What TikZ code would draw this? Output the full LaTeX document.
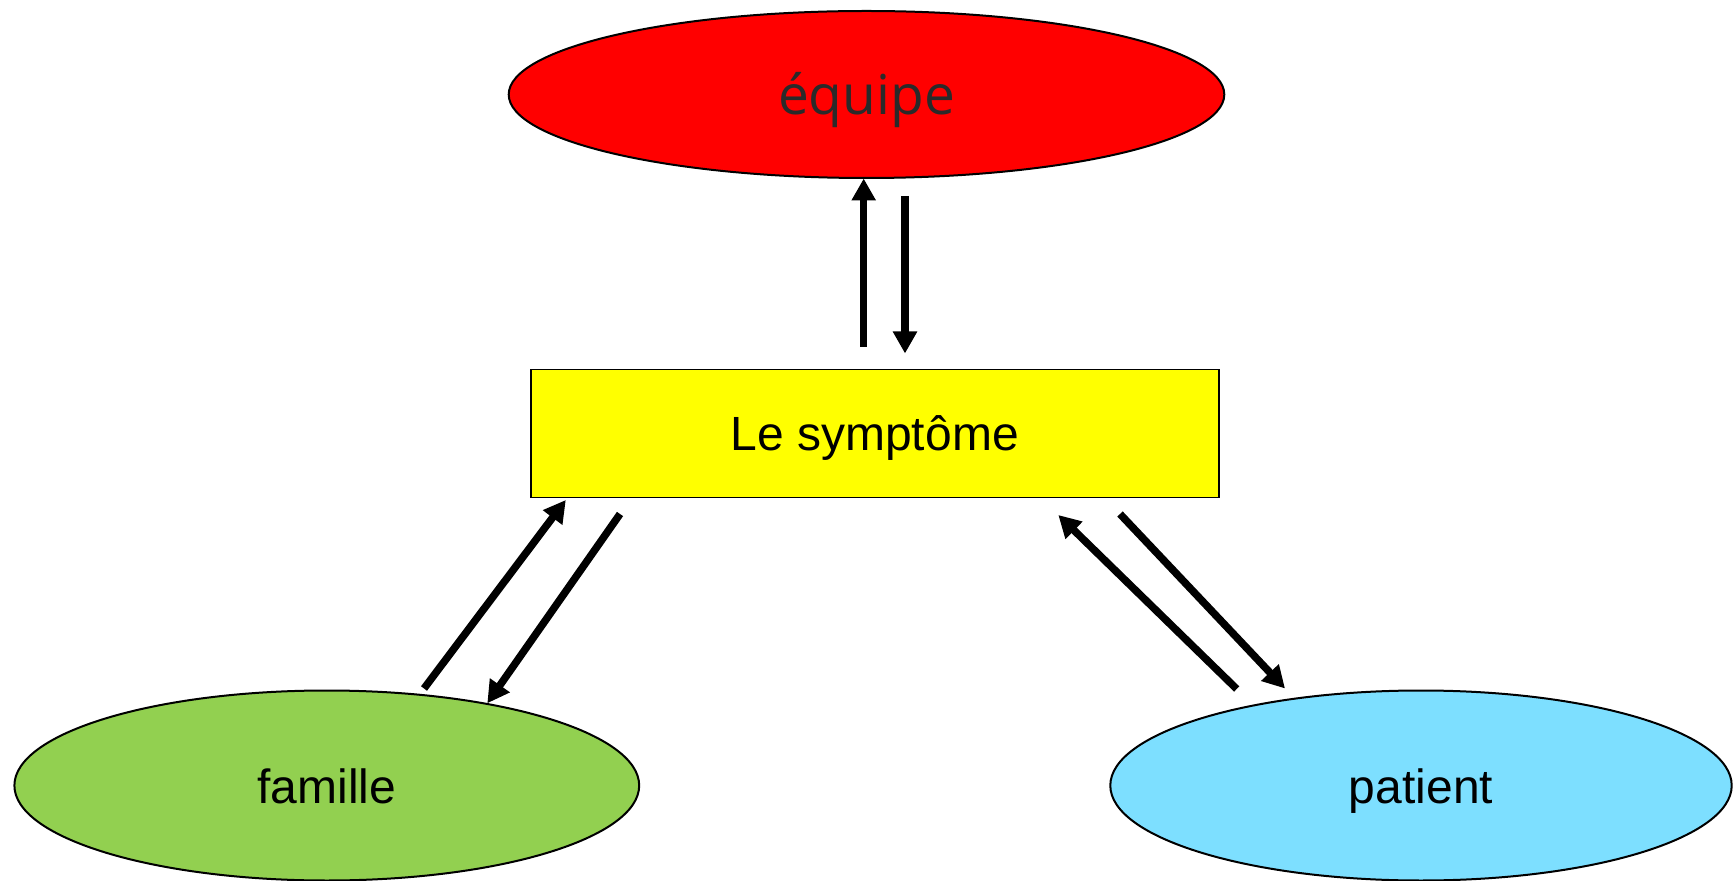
\documentclass[tikz,border=0pt]{standalone}
\usepackage{fontspec}
\setmainfont{Liberation Sans}
\newfontfamily\eqfont{Open Sans}
\usetikzlibrary{shapes.geometric,arrows.meta}
\definecolor{eqred}{HTML}{FF0000}
\definecolor{symyellow}{HTML}{FFFF00}
\definecolor{famgreen}{HTML}{92D050}
\definecolor{patblue}{HTML}{7DDFFF}
\definecolor{eqtext}{HTML}{2A2A2A}
\tikzset{
  oval/.style={ellipse, draw=black, line width=1pt, inner sep=0pt, outer sep=0pt,
    font=\fontsize{24pt}{28pt}\selectfont, text height=18pt, text depth=0pt},
  symbox/.style={rectangle, draw=black, line width=0.8pt, fill=symyellow, inner sep=0pt, outer sep=0pt,
    minimum width=344pt, minimum height=64pt, font=\fontsize{24pt}{28pt}\selectfont,
    text height=17.2pt, text depth=0pt},
  flow/.style={line width=3.75pt, line cap=butt, -{Triangle[length=11pt,width=11.5pt]}}
}
\begin{document}
\begin{tikzpicture}[x=0.5pt,y=-0.5pt]
\useasboundingbox (0,0) rectangle (1734,881);
\node[oval, fill=eqred, minimum width=357.8pt, minimum height=83.5pt,
  font=\eqfont\fontsize{27.5pt}{32pt}\selectfont, text=eqtext, text height=20.5pt] (equipe) at (866.5,94.5) {équipe};
\node[symbox] (sym) at (874.7,433.5) {Le symptôme};
\node[oval, fill=famgreen, minimum width=312.4pt, minimum height=95pt] (famille) at (326.8,785.5) {famille};
\node[oval, fill=patblue, minimum width=310.7pt, minimum height=95pt] (patient) at (1421,785.5) {patient};
% vertical pair
\coordinate (u1) at (863.7,347);
\coordinate (u2) at (863.7,178.5);
\coordinate (d1) at (905,196);
\coordinate (d2) at (905,353.5);
\draw[flow] (u1) -- (u2);
\draw[flow] (d1) -- (d2);
% left pair
\coordinate (l1) at (424,688.5);
\coordinate (l2) at (565.8,500);
\coordinate (l3) at (620,514);
\coordinate (l4) at (487.3,703.3);
\draw[flow] (l1) -- (l2);
\draw[flow] (l3) -- (l4);
% right pair
\coordinate (r1) at (1236.7,689);
\coordinate (r2) at (1058.3,515);
\coordinate (r3) at (1120,514);
\coordinate (r4) at (1285,688.5);
\draw[flow] (r1) -- (r2);
\draw[flow] (r3) -- (r4);
\end{tikzpicture}
\end{document}
